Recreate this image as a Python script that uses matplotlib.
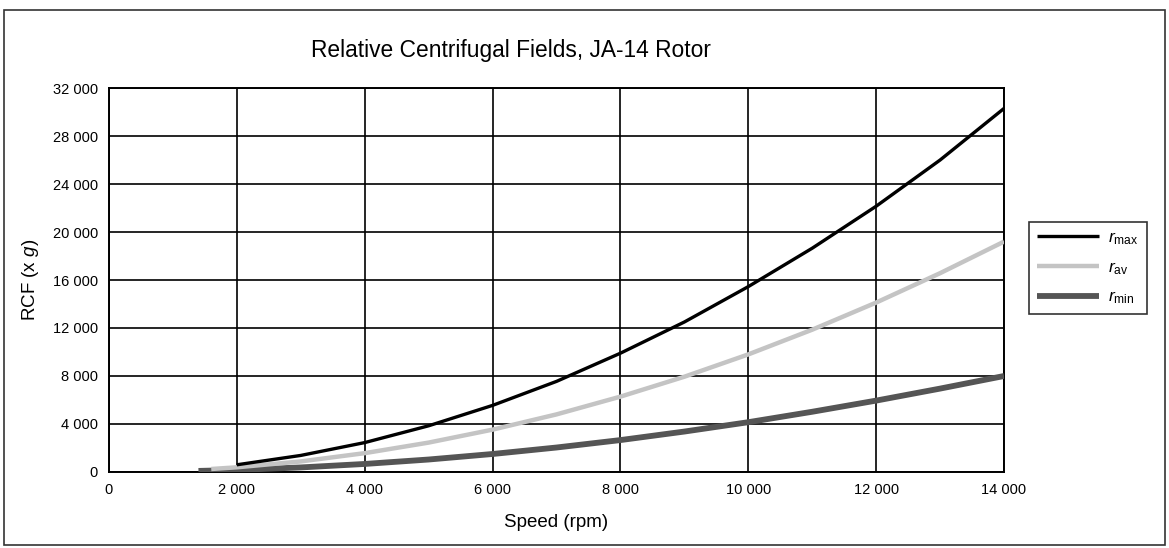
import matplotlib
matplotlib.use("Agg")
import matplotlib.pyplot as plt
from matplotlib.patches import Rectangle
from matplotlib.ticker import FuncFormatter, MultipleLocator

plt.rcParams["font.family"] = ["Liberation Sans", "DejaVu Sans"]
plt.rcParams["mathtext.fontset"] = "custom"
plt.rcParams["mathtext.rm"] = "Liberation Sans"
plt.rcParams["mathtext.it"] = "Liberation Sans:italic"

# speeds (rpm) and RCF values (x g)
speed_max = [2000, 3000, 4000, 5000, 6000, 7000, 8000, 9000, 10000,
             11000, 12000, 13000, 14000]
rcf_max = [600, 1380, 2450, 3850, 5550, 7550, 9900, 12500, 15450,
           18650, 22150, 26000, 30300]

speed_av = [1600, 2000, 3000, 4000, 5000, 6000, 7000, 8000, 9000, 10000,
            11000, 12000, 13000, 14000]
rcf_av = [250, 390, 880, 1570, 2450, 3530, 4800, 6280, 7940, 9800,
          11860, 14120, 16570, 19200]

speed_min = [1400, 2000, 3000, 4000, 5000, 6000, 7000, 8000, 9000, 10000,
             11000, 12000, 13000, 14000]
rcf_min = [90, 170, 380, 670, 1040, 1500, 2040, 2660, 3370, 4150,
           5020, 5950, 6950, 8000]

fig = plt.figure(figsize=(11.69, 5.48), dpi=100)
ax = fig.add_axes([0.0932, 0.1387, 0.7657, 0.7007])

ax.plot(speed_min, rcf_min, color="#555555", lw=4.2, solid_capstyle="butt",
        label=r"$\mathit{r}_{\mathrm{min}}$", zorder=3)
ax.plot(speed_av, rcf_av, color="#c4c4c4", lw=3.2, solid_capstyle="butt",
        label=r"$\mathit{r}_{\mathrm{av}}$", zorder=4)
ax.plot(speed_max, rcf_max, color="black", lw=2.4, solid_capstyle="butt",
        label=r"$\mathit{r}_{\mathrm{max}}$", zorder=5)

ax.set_xlim(0, 14000)
ax.set_ylim(0, 32000)
ax.xaxis.set_major_locator(MultipleLocator(2000))
ax.yaxis.set_major_locator(MultipleLocator(4000))
fmt = FuncFormatter(lambda v, p: f"{int(v):,}".replace(",", " "))
ax.xaxis.set_major_formatter(fmt)
ax.yaxis.set_major_formatter(fmt)
ax.tick_params(length=0, labelsize=10.5, pad=8)
ax.grid(True, color="black", lw=1.2)
ax.set_axisbelow(True)
for s in ax.spines.values():
    s.set_linewidth(1.4)

ax.set_xlabel("Speed (rpm)", fontsize=13.5, labelpad=12)
ax.set_ylabel(r"RCF (x $\mathit{g}$)", fontsize=13.5, labelpad=8)
fig.text(0.437, 0.908, "Relative Centrifugal Fields, JA-14 Rotor",
         fontsize=16.4, ha="center", va="center")

handles, labels = ax.get_legend_handles_labels()
leg = ax.legend(handles[::-1], labels[::-1], loc="upper left",
                bbox_to_anchor=(1.028, 0.651), frameon=True, fancybox=False,
                edgecolor="black", fontsize=12.5, handlelength=3.6,
                handletextpad=0.5, borderpad=0.45, labelspacing=0.75,
                borderaxespad=0)
leg.get_frame().set_linewidth(1.2)

fig.patches.append(Rectangle((0.003, 0.006), 0.994, 0.975,
                             transform=fig.transFigure, fill=False,
                             edgecolor="#333333", lw=1.2))

fig.savefig("out.png", dpi=100)
